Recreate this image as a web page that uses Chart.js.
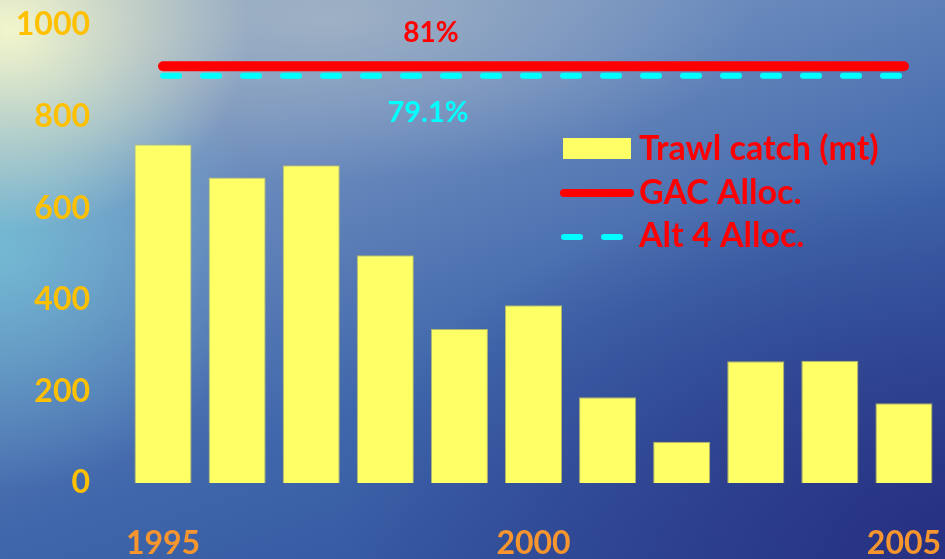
<!DOCTYPE html>
<html>
<head>
<meta charset="utf-8">
<script src="https://cdn.jsdelivr.net/npm/chart.js@4.4.0/dist/chart.umd.min.js"></script>
<style>
  html, body { margin: 0; padding: 0; }
  body {
    width: 945px; height: 559px; overflow: hidden;
    background:
      radial-gradient(ellipse 240px 200px at 10px 30px, rgba(248,250,205,0.95), rgba(248,250,205,0) 100%),
      radial-gradient(ellipse 260px 240px at 0px 250px, rgba(120,215,225,0.6), rgba(120,215,225,0) 100%),
      radial-gradient(ellipse 420px 160px at 330px 20px, rgba(185,195,200,0.55), rgba(185,195,200,0) 100%),
      radial-gradient(ellipse 620px 380px at 960px 540px, rgba(38,42,125,0.85), rgba(38,42,125,0) 100%),
      linear-gradient(160deg, #8fa9c2 0%, #6a8abd 30%, #3f66ab 60%, #2c4c98 100%);
  }
  #wrap { position: relative; width: 945px; height: 559px; }
</style>
</head>
<body>
<div id="wrap"><canvas id="chart" width="945" height="559"></canvas></div>
<script>
// ===== DATA =====
const years = ['1995', '1996', '1997', '1998', '1999', '2000', '2001', '2002', '2003', '2004', '2005'];
const trawlCatch = [739, 667, 694, 497, 336, 388, 187, 90, 266, 267, 174];
const yTicks = [0, 200, 400, 600, 800, 1000];
const xTickLabels = ['1995', '2000', '2005'];
const gacAlloc = 910;   // 81%
const alt4Alloc = 889;  // 79.1%
const gacLabel = '81%';
const alt4Label = '79.1%';
const legendLabels = ['Trawl catch (mt)', 'GAC Alloc.', 'Alt 4 Alloc.'];

const FONT = 'Lato, "Open Sans", sans-serif';

// ===== OVERLAY: percent labels + legend =====
const overlay = {
    id: 'overlay',
    afterDraw(chart) {
        const ctx = chart.ctx;
        const y = chart.scales.y;
        ctx.save();
        ctx.textAlign = 'center';
        ctx.textBaseline = 'middle';
        ctx.font = 'bold 28px ' + FONT;
        ctx.fillStyle = '#ff0000';
        ctx.fillText(gacLabel, 431, y.getPixelForValue(gacAlloc) - 33);
        ctx.font = 'bold 29px ' + FONT;
        ctx.fillStyle = '#00ffff';
        ctx.fillText(alt4Label, 428, y.getPixelForValue(alt4Alloc) + 37);

        // legend
        ctx.fillStyle = '#ffff66';
        ctx.fillRect(563, 138, 68, 21);
        ctx.lineCap = 'round';
        ctx.strokeStyle = '#ff0000';
        ctx.lineWidth = 8;
        ctx.beginPath();
        ctx.moveTo(564, 193);
        ctx.lineTo(630, 193);
        ctx.stroke();
        ctx.strokeStyle = '#00ffff';
        ctx.lineWidth = 6;
        ctx.beginPath();
        ctx.moveTo(564, 237); ctx.lineTo(580, 237);
        ctx.moveTo(604, 237); ctx.lineTo(620, 237);
        ctx.stroke();

        ctx.font = 'bold 34px ' + FONT;
        ctx.textAlign = 'left';
        ctx.fillStyle = '#ff0000';
        ctx.fillText(legendLabels[0], 639, 149);
        ctx.fillText(legendLabels[1], 639, 193);
        ctx.fillText(legendLabels[2], 639, 236);
        ctx.restore();
    }
};

// ===== CHART =====
new Chart(document.getElementById('chart'), {
    type: 'bar',
    data: {
        labels: years,
        datasets: [
            {
                label: legendLabels[0],
                data: trawlCatch,
                backgroundColor: '#ffff66',
                borderColor: 'rgba(190,190,100,0.9)',
                borderWidth: 1,
                barPercentage: 0.77,
                categoryPercentage: 1,
                order: 2
            },
            {
                type: 'line',
                label: legendLabels[1],
                data: [{ x: years[0], y: gacAlloc }, { x: years[years.length - 1], y: gacAlloc }],
                borderColor: '#ff0000',
                borderWidth: 10,
                borderCapStyle: 'round',
                pointRadius: 0,
                order: 1
            },
            {
                type: 'line',
                label: legendLabels[2],
                data: [{ x: years[0], y: alt4Alloc }, { x: years[years.length - 1], y: alt4Alloc }],
                borderColor: '#00ffff',
                borderWidth: 6,
                borderCapStyle: 'round',
                borderDash: [16, 24],
                pointRadius: 0,
                order: 1
            }
        ]
    },
    options: {
        responsive: false,
        animation: false,
        layout: { padding: { top: 25, right: 4, left: 0, bottom: 0 } },
        plugins: {
            legend: { display: false },
            tooltip: { enabled: false }
        },
        scales: {
            x: {
                grid: { display: false, drawTicks: false },
                border: { display: false },
                afterFit: s => {
                    s.height = 76;
                    s.paddingLeft = 0;
                    s.paddingRight = 0;
                },
                ticks: {
                    autoSkip: false,
                    maxRotation: 0,
                    padding: 41,
                    color: '#f7952f',
                    font: { family: FONT, size: 32, weight: 'bold' },
                    callback: function (v) {
                        const lab = this.getLabelForValue(v);
                        return xTickLabels.includes(lab) ? lab : '';
                    }
                }
            },
            y: {
                min: 0,
                max: 1000,
                grid: { display: false, drawTicks: false },
                border: { display: false },
                afterFit: s => {
                    s.width = 126;
                    s.paddingTop = 0;
                    s.paddingBottom = 0;
                },
                afterBuildTicks: s => { s.ticks = yTicks.map(v => ({ value: v })); },
                ticks: {
                    padding: 36,
                    color: '#ffc000',
                    font: { family: FONT, size: 32, weight: 'bold' },
                    callback: v => String(v)
                }
            }
        }
    },
    plugins: [overlay]
});
</script>
</body>
</html>
